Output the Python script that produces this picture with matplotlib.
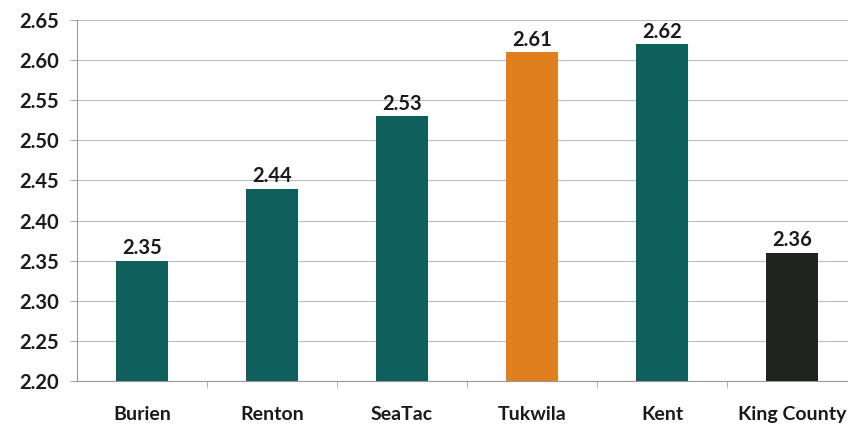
import numpy as np
import matplotlib.pyplot as plt

# household size by city
cities = ['Burien', 'Renton', 'SeaTac', 'Tukwila', 'Kent', 'King County']
values = [2.35, 2.44, 2.53, 2.61, 2.62, 2.36]
colors = ['#0f5f5c', '#0f5f5c', '#0f5f5c', '#e07f1e', '#0f5f5c', '#1f2420']
yticks = [2.20, 2.25, 2.30, 2.35, 2.40, 2.45, 2.50, 2.55, 2.60, 2.65]

plt.rcParams['font.family'] = ['Lato', 'DejaVu Sans']

fig = plt.figure(figsize=(8.48, 4.24), dpi=100)
ax = fig.add_axes([0.091, 0.101, 0.909, 0.852])

x = np.arange(len(cities))
ax.bar(x, np.array(values) - 2.20, bottom=2.20, width=0.4, color=colors, zorder=3)

for xi, v in zip(x, values):
    ax.text(xi, v + 0.003, '%.2f' % v, ha='center', va='bottom',
            fontsize=14.5, fontweight='bold', color='#1a1a1a')

ax.set_ylim(2.20, 2.65)
ax.set_xlim(-0.5, 5.43)
ax.set_yticks(yticks)
ax.set_yticklabels(['%.2f' % t for t in yticks], fontsize=14.5, fontweight='bold', color='#1a1a1a')
ax.set_xticks(x)
ax.set_xticklabels(cities, fontsize=14, fontweight='bold', color='#1a1a1a')
ax.tick_params(axis='x', length=0, pad=18)
ax.tick_params(axis='y', length=5, color='#aaaaaa', pad=8)
ax.set_xticks(np.arange(0.5, 5.5, 1), minor=True)
ax.tick_params(axis='x', which='minor', length=5, color='#aaaaaa')

ax.grid(axis='y', color='#bcbcbc', linewidth=0.8, zorder=0)
for s in ['top', 'right']:
    ax.spines[s].set_visible(False)
ax.spines['left'].set_color('#999999')
ax.spines['bottom'].set_color('#999999')

plt.savefig('out.png', dpi=100)
